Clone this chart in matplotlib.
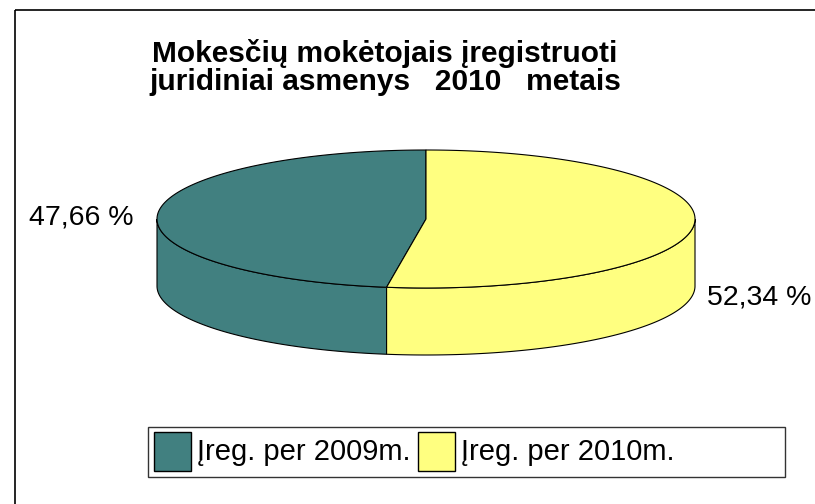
import matplotlib.pyplot as plt
import numpy as np
from matplotlib.patches import Polygon, Rectangle

title_lines = ["Mokesčių mokėtojais įregistruoti", "juridiniai asmenys   2010   metais"]
labels = ["Įreg. per 2009m.", "Įreg. per 2010m."]
shares = [47.66, 52.34]
colors = ["#418080", "#ffff80"]

plt.rcParams["font.family"] = ["Liberation Sans", "DejaVu Sans"]

# pie geometry in pixel units (y grows downwards)
cx, cy, rx, ry, depth = 426, 219, 269, 69, 67


def arc(t1, t2, dy=0, n=200):
    # t measured clockwise from 12 o'clock, in degrees
    t = np.radians(np.linspace(t1, t2, n))
    return np.column_stack([cx + rx * np.sin(t), cy - ry * np.cos(t) + dy])


def fmt(v):
    return f"{v:.2f}".replace(".", ",") + " %"


fig = plt.figure(figsize=(8.15, 5.04), dpi=100)
ax = fig.add_axes([0, 0, 1, 1])
ax.set_xlim(0, 815)
ax.set_ylim(504, 0)
ax.axis("off")

# chart frame, runs off the right and bottom
ax.add_patch(Rectangle((15, 10), 900, 600, fill=False, lw=1.2, ec="black"))

# slices go counterclockwise from the top
spans = []
start = 0.0
for s in shares:
    width = s / sum(shares) * 360
    spans.append((start - width, start))
    start -= width

# side walls (front half only: 90..270 deg)
for (t1, t2), c in zip(spans, colors):
    a = t1 % 360
    b = a + (t2 - t1)
    for lo, hi in [(90, 270), (450, 630)]:
        s1, s2 = max(a, lo), min(b, hi)
        if s2 <= s1:
            continue
        pts = np.vstack([arc(s1, s2), arc(s2, s1, dy=depth)])
        ax.add_patch(Polygon(pts, closed=True, fc=c, ec="black", lw=0.8))

# top faces
for (t1, t2), c in zip(spans, colors):
    pts = np.vstack([[cx, cy], arc(t1, t2)])
    ax.add_patch(Polygon(pts, closed=True, fc=c, ec="black", lw=0.8))

# percentage labels
ax.text(29, 217, fmt(shares[0]), ha="left", va="center", fontsize=20.5)
ax.text(707, 297, fmt(shares[1]), ha="left", va="center", fontsize=20.5)

ax.text(385, 67, "\n".join(title_lines), ha="center", va="center",
        fontsize=21.5, fontweight="bold", linespacing=1.0)

# legend
ax.add_patch(Rectangle((148, 427), 637, 50, fill=False, lw=1.0, ec="#333333"))
for x0, lab, c in zip([154, 418], labels, colors):
    ax.add_patch(Rectangle((x0, 432), 37, 39, fc=c, ec="black", lw=1.0))
    ax.text(x0 + 43, 452, lab, ha="left", va="center", fontsize=21)

fig.savefig("out.png", dpi=100)
